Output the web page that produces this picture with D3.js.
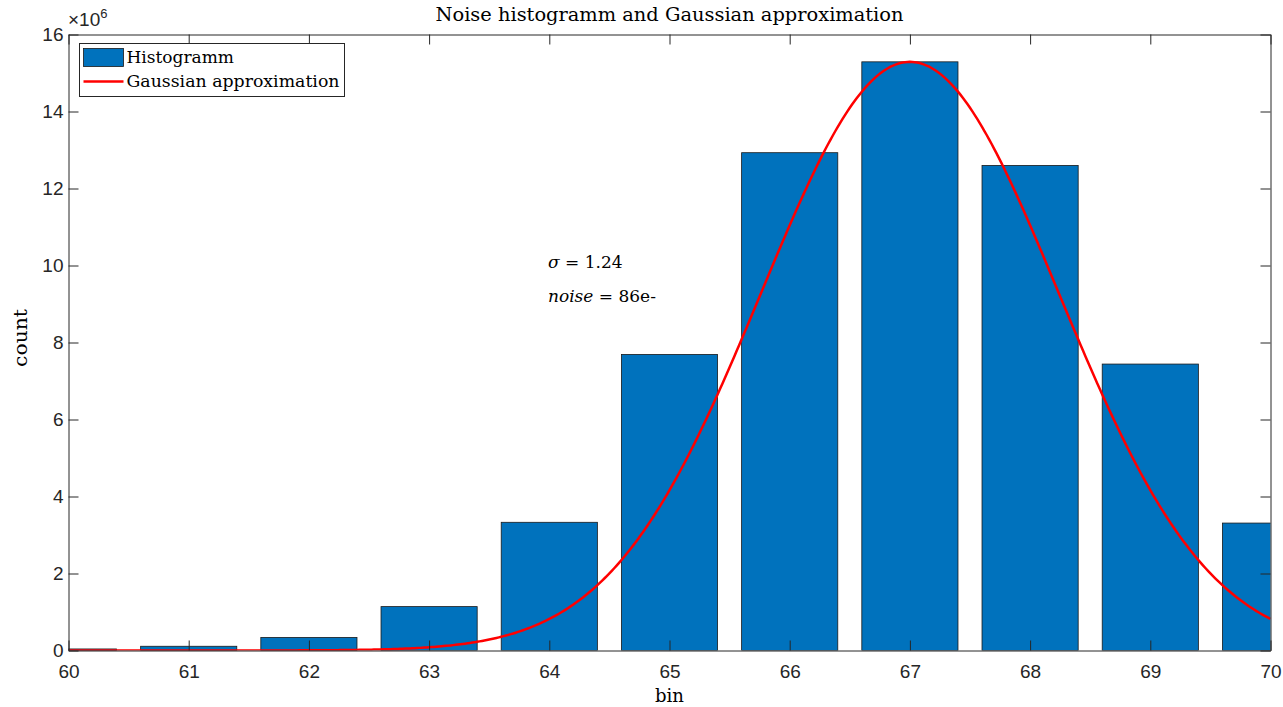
<!DOCTYPE html>
<html>
<head>
<meta charset="utf-8">
<script src="https://cdn.jsdelivr.net/npm/d3@7"></script>
<style>
  html, body { margin: 0; padding: 0; background: #fff; }
  svg { display: block; }
  .tick text { font-family: "Liberation Sans", Arial, sans-serif; font-size: 19px; fill: #262626; }
  .serif { font-family: "DejaVu Serif", "Liberation Serif", serif; fill: #000; }
</style>
</head>
<body>
<svg id="chart" width="1283" height="707"></svg>
<script>
// Histogram of noise counts per bin
const bins = [60, 61, 62, 63, 64, 65, 66, 67, 68, 69, 70];
const counts = [0.04e6, 0.11e6, 0.34e6, 1.14e6, 3.33e6, 7.69e6, 12.93e6, 15.29e6, 12.6e6, 7.44e6, 3.31e6];
const xTicks = [60, 61, 62, 63, 64, 65, 66, 67, 68, 69, 70];
const yTicks = [0, 2, 4, 6, 8, 10, 12, 14, 16];

// Gaussian fit parameters (sigma as printed in the annotation)
const fitMean = 67;
const fitSigma = 1.24;
const fitPeak = 15.29e6;

const m = { left: 68.5, right: 1270.5, top: 34.5, bottom: 650.5 };

const svg = d3.select("#chart");

const x = d3.scaleLinear().domain([60, 70]).range([m.left, m.right]);
const y = d3.scaleLinear().domain([0, 16e6]).range([m.bottom, m.top]);

svg.append("defs").append("clipPath").attr("id", "plotClip")
  .append("rect")
  .attr("x", m.left).attr("y", m.top)
  .attr("width", m.right - m.left).attr("height", m.bottom - m.top);

const plot = svg.append("g").attr("clip-path", "url(#plotClip)");

const barW = 0.8;
plot.selectAll("rect.bar")
  .data(bins.map((b, i) => ({ b, v: counts[i] })))
  .join("rect")
  .attr("class", "bar")
  .attr("x", d => x(d.b - barW / 2))
  .attr("width", d => x(d.b + barW / 2) - x(d.b - barW / 2))
  .attr("y", d => y(d.v))
  .attr("height", d => y(0) - y(d.v))
  .attr("fill", "#0072BD")
  .attr("stroke", "#1a1a1a")
  .attr("stroke-width", 0.8);

// Fitted Gaussian curve
const gauss = t => fitPeak * Math.exp(-((t - fitMean) ** 2) / (2 * fitSigma * fitSigma));
const curve = d3.range(60, 70.0001, 0.02).map(t => [t, gauss(t)]);
plot.append("path")
  .datum(curve)
  .attr("fill", "none")
  .attr("stroke", "#FF0000")
  .attr("stroke-width", 2.5)
  .attr("d", d3.line().x(d => x(d[0])).y(d => y(d[1])));

// Axes
const axisColor = "#262626";
const tickLen = 10;

const xAxis = svg.append("g").attr("transform", `translate(0,${m.bottom})`)
  .call(d3.axisBottom(x).tickValues(xTicks).tickFormat(d3.format("d")).tickSizeInner(-tickLen).tickSizeOuter(0).tickPadding(11));
const yAxis = svg.append("g").attr("transform", `translate(${m.left},0)`)
  .call(d3.axisLeft(y).tickValues(yTicks.map(v => v * 1e6)).tickFormat(v => d3.format("d")(v / 1e6)).tickSizeInner(-tickLen).tickSizeOuter(0).tickPadding(5));
const xTop = svg.append("g").attr("transform", `translate(0,${m.top})`)
  .call(d3.axisTop(x).tickValues(xTicks).tickFormat("").tickSizeInner(-tickLen).tickSizeOuter(0));
const yRight = svg.append("g").attr("transform", `translate(${m.right},0)`)
  .call(d3.axisRight(y).tickValues(yTicks.map(v => v * 1e6)).tickFormat("").tickSizeInner(-tickLen).tickSizeOuter(0));

[xAxis, yAxis, xTop, yRight].forEach(g => {
  g.selectAll("path.domain").attr("stroke", axisColor).attr("stroke-width", 1);
  g.selectAll(".tick line").attr("stroke", axisColor).attr("stroke-width", 1);
});
xAxis.selectAll(".tick text").attr("dy", "0.85em");

// Exponent label
const expo = svg.append("text")
  .attr("x", 68).attr("y", 26)
  .style("font-family", "'Liberation Sans', Arial, sans-serif")
  .style("font-size", "19px").style("fill", axisColor);
expo.append("tspan").text("×10");
expo.append("tspan").attr("dy", -8).style("font-size", "13px").text("6");

// Title and axis labels
svg.append("text").attr("class", "serif")
  .attr("x", (m.left + m.right) / 2).attr("y", 21)
  .attr("text-anchor", "middle").style("font-size", "19px")
  .attr("textLength", 468).attr("lengthAdjust", "spacingAndGlyphs")
  .text("Noise histogramm and Gaussian approximation");
svg.append("text").attr("class", "serif")
  .attr("x", 669.5).attr("y", 702)
  .attr("text-anchor", "middle").style("font-size", "19px")
  .attr("textLength", 29).attr("lengthAdjust", "spacingAndGlyphs")
  .text("bin");
svg.append("text").attr("class", "serif")
  .attr("transform", `translate(27,338) rotate(-90)`)
  .attr("text-anchor", "middle").style("font-size", "18px")
  .attr("textLength", 58).attr("lengthAdjust", "spacingAndGlyphs")
  .text("count");

// Annotations
const ann1 = svg.append("text").attr("class", "serif")
  .attr("x", 548).attr("y", 268).style("font-size", "17px");
ann1.append("tspan").style("font-style", "italic").text("σ");
ann1.append("tspan").text(" = 1.24");
const ann2 = svg.append("text").attr("class", "serif")
  .attr("x", 548).attr("y", 302).style("font-size", "17px");
ann2.append("tspan").style("font-style", "italic").text("noise");
ann2.append("tspan").text(" = 86e-");

// Legend
const lg = svg.append("g").attr("transform", "translate(79.5,43.5)");
lg.append("rect").attr("width", 265).attr("height", 53)
  .attr("fill", "#fff").attr("stroke", axisColor).attr("stroke-width", 1);
lg.append("rect").attr("x", 4).attr("y", 5).attr("width", 40).attr("height", 18)
  .attr("fill", "#0072BD").attr("stroke", "#1a1a1a").attr("stroke-width", 0.8);
lg.append("line").attr("x1", 4).attr("x2", 44).attr("y1", 38).attr("y2", 38)
  .attr("stroke", "#FF0000").attr("stroke-width", 2.5);
lg.append("text").attr("class", "serif").attr("x", 47).attr("y", 19)
  .style("font-size", "17px").text("Histogramm");
lg.append("text").attr("class", "serif").attr("x", 47).attr("y", 43)
  .style("font-size", "17px").attr("textLength", 213).attr("lengthAdjust", "spacingAndGlyphs")
  .text("Gaussian approximation");
</script>
</body>
</html>
